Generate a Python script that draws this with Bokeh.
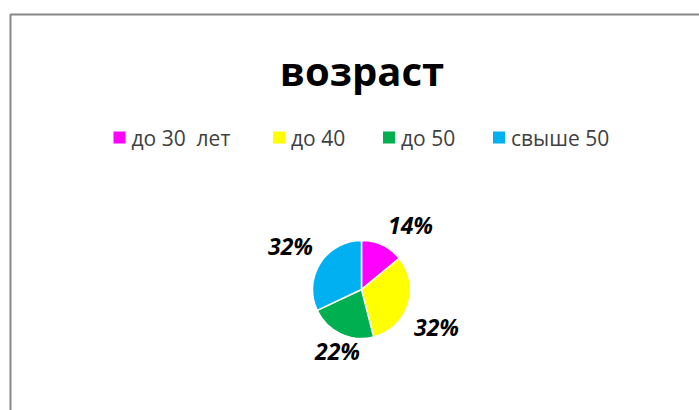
import math
from bokeh.plotting import figure
from bokeh.models import Range1d, BoxAnnotation, ColumnDataSource
from bokeh.core.properties import value
from bokeh.embed import file_html
from bokeh.resources import INLINE

# ---- data ----
title_text = "возраст"
categories = ["до 30  лет", "до 40", "до 50", "свыше 50"]
shares = [14, 32, 22, 32]
colors = ["#FF00FF", "#FFFF00", "#00B050", "#00B0F0"]

# ---- layout constants (pixels, top-left origin) ----
W, H = 699, 410
cx, cy, r = 361, 289, 49
label_offsets = [(49, -65), (75, 37), (-24, 61), (-71, -44)]
legend_sq_x = [119, 278.5, 388.5, 498.5]
legend_y = 137

p = figure(width=W, height=H, output_backend="svg", toolbar_location=None,
           x_range=Range1d(0, W), y_range=Range1d(0, H), min_border=0,
           background_fill_color="white", border_fill_color="white")
p.axis.visible = False
p.grid.visible = False
p.outline_line_color = None

def Y(y):
    return H - y

# chart border
p.add_layout(BoxAnnotation(left=10, right=W + 20, top=Y(14), bottom=-20,
                           fill_alpha=0, line_color="#868686", line_alpha=1,
                           line_width=2))

# pie
total = sum(shares)
starts, ends = [], []
acc = 0
for v in shares:
    a0 = math.pi / 2 - 2 * math.pi * acc / total
    acc += v
    a1 = math.pi / 2 - 2 * math.pi * acc / total
    starts.append(a0); ends.append(a1)

src = ColumnDataSource(dict(start=starts, end=ends, color=colors))
p.wedge(x=cx, y=Y(cy), radius=r, start_angle="start", end_angle="end",
        direction="clock", fill_color="color", line_color="white",
        line_width=1.5, source=src)

# data labels
lab = ColumnDataSource(dict(
    x=[cx + dx for dx, dy in label_offsets],
    y=[Y(cy + dy) for dx, dy in label_offsets],
    t=[f"{round(100 * v / total)}%" for v in shares]))
p.text(x="x", y="y", text="t", source=lab, text_font=value("Open Sans"),
       text_font_size="23px", text_font_style="bold italic",
       text_color="black", text_align="center", text_baseline="middle")

# title
p.text(x=[W / 2 + 12], y=[Y(70)], text=[title_text], text_font=value("Open Sans"),
       text_font_size="40px", text_font_style="bold", text_color="black",
       text_align="center", text_baseline="middle")

# legend
legend_text = [c.replace("  ", "\u00a0 ") for c in categories]
p.scatter(x=legend_sq_x, y=[Y(legend_y)] * 4, marker="square", size=12,
          fill_color=colors, line_color=None)
p.text(x=[x + 12 for x in legend_sq_x], y=[Y(legend_y)] * 4, text=legend_text,
       text_font=value("Open Sans"), text_font_size="21px", text_color="#404040",
       text_align="left", text_baseline="middle")

open("out.html", "w").write(file_html(p, INLINE))
